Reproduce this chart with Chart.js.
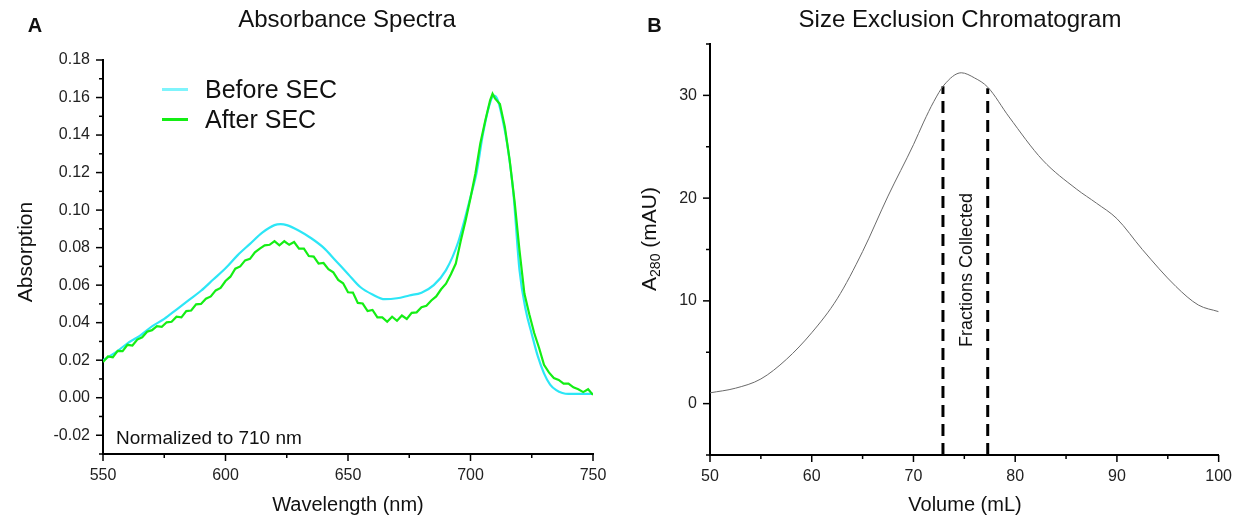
<!DOCTYPE html>
<html>
<head>
<meta charset="utf-8">
<script src="https://cdn.jsdelivr.net/npm/chart.js@4.4.1/dist/chart.umd.min.js"></script>
<style>
  body { margin: 0; background: #fff; }
  #wrap { position: relative; width: 1244px; height: 523px; }
  canvas { position: absolute; top: 0; }
</style>
</head>
<body>
<div id="wrap">
  <canvas id="spec" width="622" height="523" style="left:0;width:622px;height:523px"></canvas>
  <canvas id="sec" width="622" height="523" style="left:622px;width:622px;height:523px"></canvas>
</div>
<script>
// ---- panel A : absorbance spectra ----
const beforeWl = [550,555,560,565,570,575,580,585,590,595,600,605,610,615,620,622.5,625,630,635,640,645,650,655,660,665,670,675,680,685,690,695,700,702.5,705,707.5,709.5,711,713,715,717.5,720,722.5,725,727.5,730,732.5,735,737.5,740,745,750];
const beforeAbs = [0.020,0.024,0.029,0.033,0.038,0.042,0.047,0.052,0.057,0.063,0.069,0.076,0.082,0.088,0.092,0.0925,0.092,0.089,0.085,0.080,0.073,0.066,0.059,0.055,0.0525,0.053,0.0545,0.056,0.060,0.068,0.083,0.107,0.120,0.140,0.155,0.161,0.159,0.149,0.135,0.109,0.068,0.047,0.034,0.022,0.013,0.007,0.004,0.0025,0.002,0.002,0.002];

const afterWl = [550,552,554,556,558,560,562,564,566,568,570,572,574,576,578,580,582,584,586,588,590,592,594,596,598,600,602,604,606,608,610,612,614,616,618,620,622,624,626,628,630,632,634,636,638,640,642,644,646,648,650,652,654,656,658,660,662,664,666,668,670,672,674,676,678,680,682,684,686,688,690,692,694,696,698,700,702,704,706,708,709,710,712,714,716,718,720,722,724,726,728,730,732,734,736,738,740,742,744,746,748,750];
const afterAbs = [0.0190,0.0220,0.0215,0.0250,0.0248,0.0282,0.0278,0.0310,0.0322,0.0352,0.0360,0.0382,0.0378,0.0402,0.0405,0.0432,0.0428,0.0462,0.0465,0.0498,0.0500,0.0528,0.0540,0.0572,0.0585,0.0622,0.0645,0.0688,0.0700,0.0732,0.0740,0.0775,0.0795,0.0812,0.0815,0.0835,0.0812,0.0834,0.0815,0.0830,0.0795,0.0795,0.0755,0.0752,0.0715,0.0718,0.0685,0.0668,0.0628,0.0610,0.0562,0.0560,0.0505,0.0502,0.0462,0.0468,0.0428,0.0428,0.0405,0.0432,0.0410,0.0438,0.0420,0.0452,0.0455,0.0482,0.0490,0.0518,0.0540,0.0578,0.0608,0.0658,0.0715,0.0835,0.0945,0.1065,0.1195,0.1355,0.1475,0.1585,0.1620,0.1595,0.1565,0.1445,0.1265,0.1045,0.0785,0.0555,0.0445,0.0345,0.0265,0.0175,0.0135,0.0105,0.0095,0.0075,0.0075,0.0055,0.0045,0.0030,0.0045,0.0015];

const specXTicks = [550, 600, 650, 700, 750];
const specXMinor = [575, 625, 675, 725];
const specYTicks = [-0.02, 0, 0.02, 0.04, 0.06, 0.08, 0.10, 0.12, 0.14, 0.16, 0.18];
const specYMinor = [-0.03, -0.01, 0.01, 0.03, 0.05, 0.07, 0.09, 0.11, 0.13, 0.15, 0.17];

// ---- panel B : size exclusion chromatogram ----
const secVolume = [50,52.5,55,57.5,60,62.5,65,67.5,70,71,72,73,74.7,76,77.3,79.4,82.7,86,88,90,92.5,95.8,98,100];
const secA280 = [1.05,1.5,2.4,4.3,6.9,10.2,14.8,20.2,25.2,27.4,29.4,31.0,32.2,31.7,30.8,27.9,23.7,20.9,19.5,18.0,15.0,11.4,9.6,8.95];
const fractionVolumes = [72.9, 77.3];
const fractionTops = [30.9, 30.7];

const secXTicks = [50, 60, 70, 80, 90, 100];
const secXMinor = [55, 65, 75, 85, 95];
const secYTicks = [0, 10, 20, 30];
const secYMinor = [-5, 5, 15, 25, 35];

Chart.defaults.font.family = '"Liberation Sans", Arial, sans-serif';
Chart.defaults.font.size = 16;
Chart.defaults.color = '#222';

const FONT = '"Liberation Sans", Arial, sans-serif';

function txt(ctx, s, x, y, size, align, rot, weight) {
  ctx.save();
  ctx.translate(x, y);
  if (rot) ctx.rotate(-Math.PI / 2);
  ctx.font = (weight || '') + ' ' + size + 'px ' + FONT;
  ctx.fillStyle = '#111';
  ctx.textAlign = align || 'center';
  ctx.textBaseline = 'alphabetic';
  ctx.fillText(s, 0, 0);
  ctx.restore();
}

// outward tick marks, major and minor, placed through the scales
const tickMarks = {
  id: 'tickMarks',
  afterDraw(chart, args, o) {
    const { ctx, chartArea } = chart;
    const xs = chart.scales.x, ys = chart.scales.y;
    ctx.save();
    ctx.strokeStyle = '#000';
    ctx.lineWidth = 1.5;
    const mark = (x1, y1, x2, y2) => { ctx.beginPath(); ctx.moveTo(x1, y1); ctx.lineTo(x2, y2); ctx.stroke(); };
    o.xMajor.forEach(v => { const p = xs.getPixelForValue(v); mark(p, chartArea.bottom, p, chartArea.bottom + 7); });
    o.xMinor.forEach(v => { const p = xs.getPixelForValue(v); mark(p, chartArea.bottom, p, chartArea.bottom + 4); });
    o.yMajor.forEach(v => { const p = ys.getPixelForValue(v); mark(chartArea.left, p, chartArea.left - 7, p); });
    o.yMinor.forEach(v => { const p = ys.getPixelForValue(v); mark(chartArea.left, p, chartArea.left - 4, p); });
    ctx.restore();
  }
};

const pts = (xs, ys) => xs.map((x, i) => ({ x: x, y: ys[i] }));

const specText = {
  id: 'specText',
  afterDraw(chart) {
    const ctx = chart.ctx;
    txt(ctx, 'A', 35, 32, 20, 'center', false, 'bold');
    txt(ctx, 'Absorbance Spectra', 347, 27, 24);
    // legend
    const items = [['Before SEC', '#7ff4fc', 89.5, 98], ['After SEC', chart.data.datasets[0].borderColor, 119.5, 128]];
    items.forEach(it => {
      ctx.save();
      ctx.strokeStyle = it[1];
      ctx.lineWidth = 3;
      ctx.beginPath(); ctx.moveTo(162, it[2]); ctx.lineTo(188, it[2]); ctx.stroke();
      ctx.restore();
      txt(ctx, it[0], 205, it[3], 25, 'left');
    });
    txt(ctx, 'Normalized to 710 nm', 116, 444, 19, 'left');
    txt(ctx, 'Wavelength (nm)', 348, 511, 20);
    txt(ctx, 'Absorption', 32, 252, 21, 'center', true);
  }
};

const secText = {
  id: 'secText',
  afterDraw(chart) {
    const ctx = chart.ctx;
    txt(ctx, 'B', 32.5, 32, 20, 'center', false, 'bold');
    txt(ctx, 'Size Exclusion Chromatogram', 338, 27, 24);
    txt(ctx, 'Volume (mL)', 343, 511, 20);
    txt(ctx, 'Fractions Collected', 350, 270, 18, 'center', true);
    // y title with subscript
    ctx.save();
    ctx.translate(34, 239);
    ctx.rotate(-Math.PI / 2);
    ctx.fillStyle = '#111';
    ctx.textBaseline = 'alphabetic';
    const big = '21px ' + FONT, small = '14px ' + FONT;
    ctx.font = big; const wA = ctx.measureText('A').width; const wU = ctx.measureText(' (mAU)').width;
    ctx.font = small; const wS = ctx.measureText('280').width;
    let x0 = -(wA + wS + wU) / 2;
    ctx.font = big; ctx.fillText('A', x0, 0);
    ctx.font = small; ctx.fillText('280', x0 + wA, 4);
    ctx.font = big; ctx.fillText(' (mAU)', x0 + wA + wS, 0);
    ctx.restore();
  }
};

const axisBase = (min, max, ticks, fmt, w, h, which) => ({
  type: 'linear',
  min: min,
  max: max,
  afterBuildTicks: s => { s.ticks = ticks.map(v => ({ value: v })); },
  afterFit: s => { if (which === 'y') s.width = w; else s.height = h; },
  grid: { display: false, drawTicks: false },
  border: { display: true, color: '#000', width: 2 },
  ticks: { padding: which === 'y' ? 13 : 12, callback: fmt, font: { size: 16 }, color: '#222', maxRotation: 0, autoSkip: false }
});

new Chart(document.getElementById('spec'), {
  type: 'line',
  data: {
    datasets: [
      { label: 'After SEC', data: pts(afterWl, afterAbs), borderColor: '#14ee14', borderWidth: 2.2, pointRadius: 0, tension: 0, order: 0 },
      { label: 'Before SEC', data: pts(beforeWl, beforeAbs), borderColor: '#2ce6f6', borderWidth: 2.2, pointRadius: 0, tension: 0.35, cubicInterpolationMode: 'monotone', order: 1 }
    ]
  },
  options: {
    responsive: false,
    animation: false,
    layout: { padding: { left: 0, top: 60, right: 29, bottom: 0 } },
    plugins: {
      legend: { display: false },
      tooltip: { enabled: false },
      tickMarks: { xMajor: specXTicks, xMinor: specXMinor, yMajor: specYTicks, yMinor: specYMinor }
    },
    scales: {
      x: axisBase(550, 750, specXTicks, v => String(v), 0, 69, 'x'),
      y: axisBase(-0.03, 0.18, specYTicks, v => v.toFixed(2), 103, 0, 'y')
    }
  },
  plugins: [tickMarks, specText]
});

new Chart(document.getElementById('sec'), {
  type: 'line',
  data: {
    datasets: [
      { label: 'A280', data: pts(secVolume, secA280), borderColor: '#6a6a6a', borderWidth: 1, pointRadius: 0, cubicInterpolationMode: 'monotone' },
      { label: 'start', data: [{ x: fractionVolumes[0], y: -5 }, { x: fractionVolumes[0], y: fractionTops[0] }], borderColor: '#000', borderWidth: 3, borderDash: [12, 7], pointRadius: 0 },
      { label: 'end', data: [{ x: fractionVolumes[1], y: -5 }, { x: fractionVolumes[1], y: fractionTops[1] }], borderColor: '#000', borderWidth: 3, borderDash: [12, 7], pointRadius: 0 }
    ]
  },
  options: {
    responsive: false,
    animation: false,
    layout: { padding: { left: 0, top: 44, right: 25, bottom: 0 } },
    plugins: {
      legend: { display: false },
      tooltip: { enabled: false },
      tickMarks: { xMajor: secXTicks, xMinor: secXMinor, yMajor: secYTicks, yMinor: secYMinor }
    },
    scales: {
      x: axisBase(50, 100, secXTicks, v => String(v), 0, 68, 'x'),
      y: axisBase(-5, 35, secYTicks, v => String(v), 88, 0, 'y')
    }
  },
  plugins: [tickMarks, secText]
});
</script>
</body>
</html>
